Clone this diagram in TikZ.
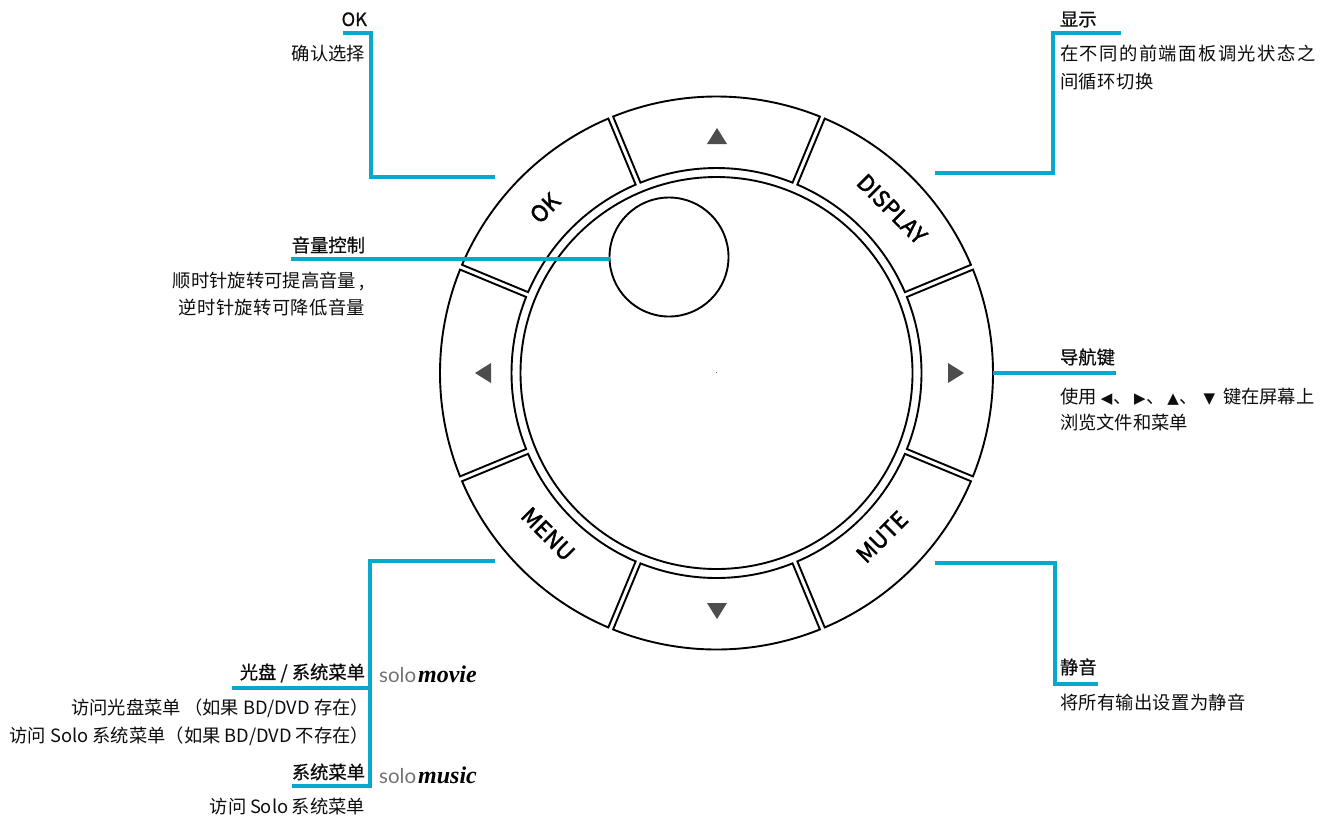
\documentclass[tikz,border=0pt]{standalone}
\usepackage{fontspec}
\setmainfont{Noto Sans CJK SC}
\newfontfamily\headfont[FakeBold=0.7]{Noto Sans CJK SC}
\newfontfamily\btnfont[FakeBold=2]{Noto Sans CJK SC}
\newfontfamily\symfont{DejaVu Sans}
\newfontfamily\brandserif{Liberation Serif}
\newfontfamily\brandsans{Lato}
\newcommand{\tri}[1]{\makebox[13pt]{\symfont\fontsize{15}{15}\selectfont #1}}
\newcommand{\solo}[1]{{\brandsans\fontsize{20.5}{20}\selectfont\color{black!55}solo}\hspace{2pt}{\brandserif\fontsize{24}{24}\selectfont\bfseries\itshape #1}}
\definecolor{leader}{HTML}{08A8CC}
\definecolor{arrowgrey}{HTML}{4D4D4D}
\tikzset{
  lab/.style={inner sep=0pt,outer sep=0pt,font=\fontsize{18.3}{18}\selectfont,text=black!95},
  rlab/.style={lab,anchor=base east},
  llab/.style={lab,anchor=base west},
  head/.style={font=\headfont\fontsize{18.3}{18}\selectfont},
  leaderline/.style={draw=leader,line width=3.1pt,line join=miter},
  ringline/.style={draw=black,line width=1.9pt,fill=white},
  btn/.style={inner sep=0pt,font=\btnfont\fontsize{22.5}{22}\selectfont},
  arrowmark/.style={fill=arrowgrey,draw=none},
  brand/.style={inner sep=0pt,anchor=base west},
}
\begin{document}
\begin{tikzpicture}[x=1pt,y=-1pt]
\useasboundingbox (0,0) rectangle (1321,820);
% buttons
\begin{scope}[shift={(716.5,373)}]
\def\Ro{276.5}\def\Ri{205}\def\g{2.6}
\foreach \m in {90,45,0,-45,-90,-135,180,135}{
  \pgfmathsetmacro{\dO}{asin(\g/\Ro)}
  \pgfmathsetmacro{\dI}{asin(\g/\Ri)}
  \pgfmathsetmacro{\aO}{\m-22.5+\dO}
  \pgfmathsetmacro{\bO}{\m+22.5-\dO}
  \pgfmathsetmacro{\aI}{\m-22.5+\dI}
  \pgfmathsetmacro{\bI}{\m+22.5-\dI}
  \draw[ringline,line join=miter] (\aO:\Ro pt) arc[start angle=\aO,end angle=\bO,radius=\Ro pt]
     -- (\bI:\Ri pt) arc[start angle=\bI,end angle=\aI,radius=\Ri pt] -- cycle;
}
\draw[ringline] (0,0) circle[radius=196pt];
\end{scope}
\node[draw=black,line width=1.9pt,fill=white,circle,minimum size=119pt,inner sep=0pt] (knob) at (669,257) {};
\fill[black!60] (716.5,372.5) circle[radius=0.6pt];
% arrows
\fill[arrowmark] (707,144) -- (727,144) -- (717,128) -- cycle;
\fill[arrowmark] (707,603) -- (727,603) -- (717,619) -- cycle;
\fill[arrowmark] (491,363) -- (491,383) -- (475,373) -- cycle;
\fill[arrowmark] (948,363) -- (948,383) -- (964,373) -- cycle;
% button labels
\node[btn,rotate=45] (bok) at (545,208) {OK};
\node[btn,rotate=-45] (bdisplay) at (892,209) {DISPLAY};
\node[btn,rotate=-45] (bmenu) at (548,534) {MENU};
\node[btn,rotate=45] (bmute) at (882,537) {MUTE};
% anchor points
\coordinate (okEnd) at (495,177);
\coordinate (okCorner) at (371,177);
\coordinate (okTop) at (371,33);
\coordinate (okStart) at (343,33);
\coordinate (volStart) at (291,259);
\coordinate (volEnd) at (610,259);
\coordinate (dispEnd) at (935,173);
\coordinate (dispCorner) at (1053,173);
\coordinate (dispTop) at (1053,33);
\coordinate (dispStart) at (1121,33);
\coordinate (navEnd) at (993,373);
\coordinate (navStart) at (1116,373);
\coordinate (muteEnd) at (935,563);
\coordinate (muteCorner) at (1055,563);
\coordinate (muteLow) at (1055,684);
\coordinate (muteStart) at (1098,684);
\coordinate (menuEnd) at (495,561);
\coordinate (menuCorner) at (370,561);
\coordinate (menuLow) at (370,786);
\coordinate (menuMid) at (370,688);
\coordinate (discStart) at (232,688);
\coordinate (sysStart) at (292,786);
% leaders
\draw[leaderline] (okStart) -- (okTop) -- (okCorner) -- (okEnd);
\draw[leaderline] (volStart) -- (volEnd);
\draw[leaderline] (dispStart) -- (dispTop) -- (dispCorner) -- (dispEnd);
\draw[leaderline] (navStart) -- (navEnd);
\draw[leaderline] (muteEnd) -- (muteCorner) -- (muteLow) -- (muteStart);
\draw[leaderline] (menuEnd) -- (menuCorner) -- (menuLow) -- (sysStart);
\draw[leaderline] (discStart) -- (menuMid);
% left texts
\node[rlab,head] (t1) at (367,26) {OK};
\node[rlab] (t2) at (365,60) {确认选择};
\node[rlab,head] (t3) at (365,252) {音量控制};
\node[rlab] (t4) at (365,287) {顺时针旋转可提高音量\hspace{4pt},};
\node[rlab] (t5) at (365,314) {\addfontfeature{LetterSpace=2}逆时针旋转可降低音量};
\node[rlab,head] (t6) at (365,679) {光盘 / 系统菜单};
\node[rlab] (t7) at (369,714) {访问光盘菜单\hspace{3pt}（如果 BD/DVD 存在）};
\node[rlab] (t8) at (369,742) {访问 Solo 系统菜单（如果 BD/DVD 不存在）};
\node[rlab,head] (t9) at (365,779) {系统菜单};
\node[rlab] (t10) at (365,813) {访问\hspace{3.5pt}Solo\hspace{3.5pt}系统菜单};
\node[brand] (s1) at (379,682) {\solo{movie}};
\node[brand] (s2) at (379,783) {\solo{music}};
% right texts
\node[llab,head] (r1) at (1060,26) {显示};
\node[llab] (r2) at (1060,60) {\addfontfeature{LetterSpace=8}在不同的前端面板调光状态之};
\node[llab] (r3) at (1060,88) {\addfontfeature{LetterSpace=3}间循环切换};
\node[llab,head] (r4) at (1060,364) {导航键};
\node[llab] (r5) at (1060,403) {使用\hspace{3.5pt}\tri{◀}、\hspace{2pt}\tri{▶}、\hspace{2pt}\tri{▲}、\hspace{5pt}\tri{▼}\hspace{7pt}键在屏幕上};
\node[llab] (r6) at (1060,429) {浏览文件和菜单};
\node[llab,head] (r7) at (1060,674) {静音};
\node[llab] (r8) at (1060,709) {\addfontfeature{LetterSpace=1.5}将所有输出设置为静音};
\end{tikzpicture}
\end{document}
